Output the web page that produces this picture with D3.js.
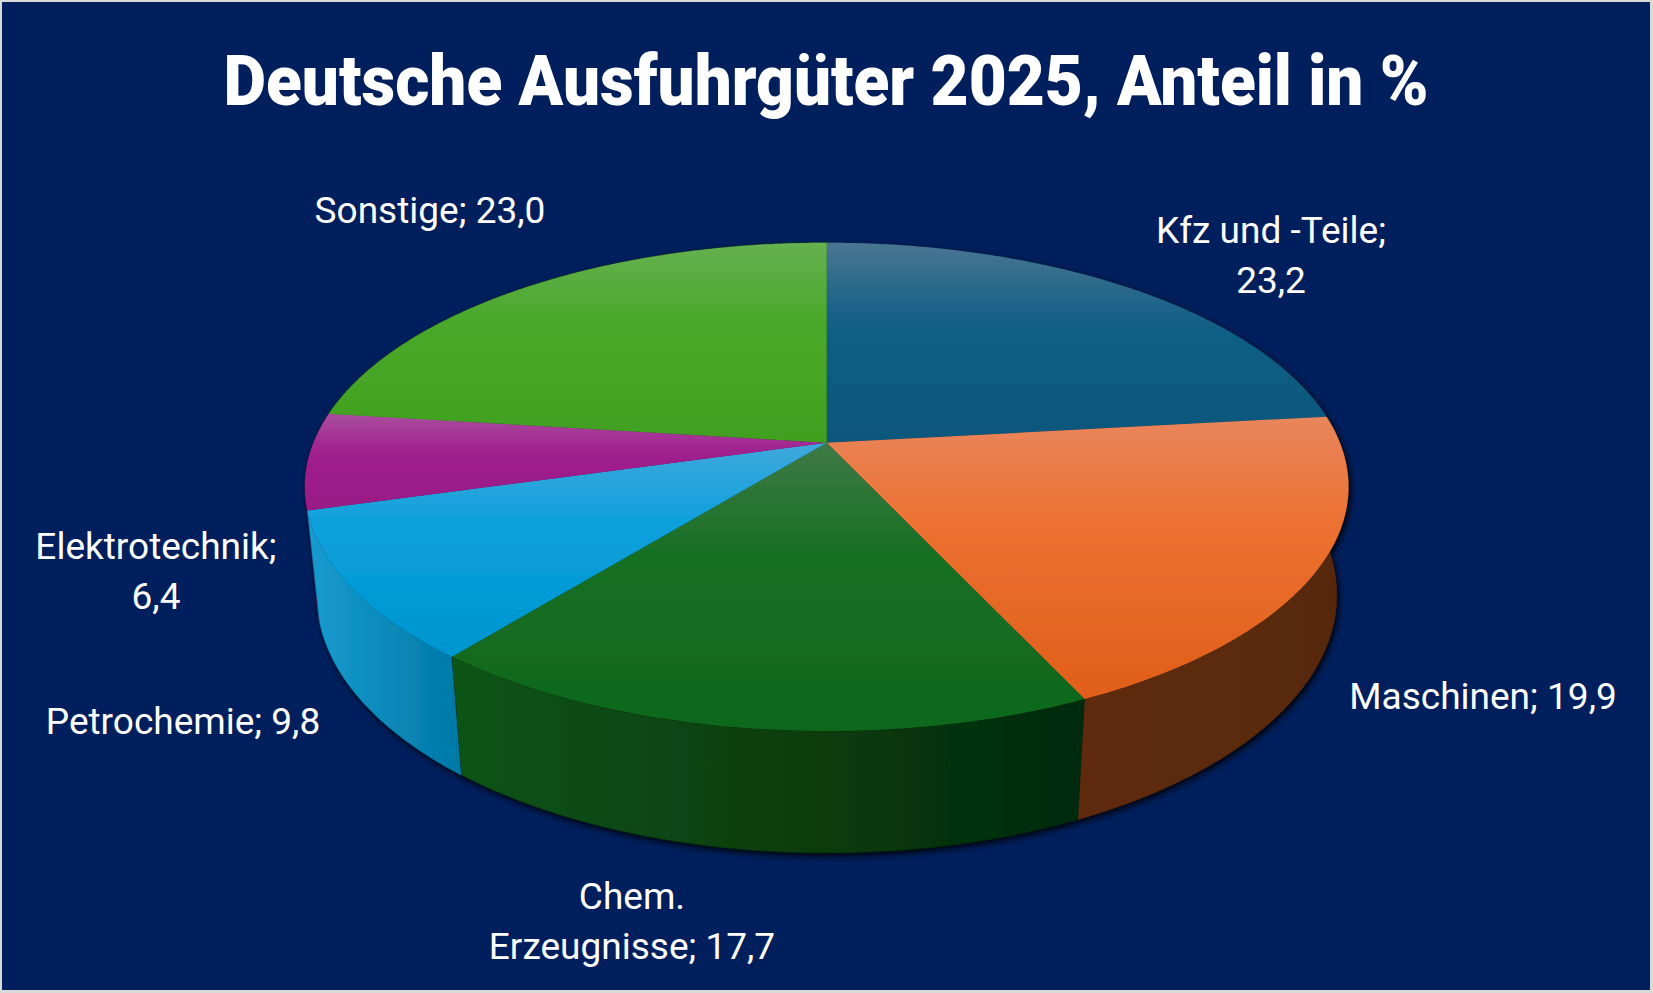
<!DOCTYPE html>
<html>
<head>
<meta charset="utf-8">
<script src="https://cdn.jsdelivr.net/npm/d3@7/dist/d3.min.js"></script>
<style>
  html, body { margin: 0; padding: 0; overflow: hidden; background: #d9d9d9; }
  svg { display: block; }
</style>
</head>
<body>
<script>
// ---- data ----
const title = "Deutsche Ausfuhrgüter 2025, Anteil in %";
const categories = ["Kfz und -Teile", "Maschinen", "Chem. Erzeugnisse", "Petrochemie", "Elektrotechnik", "Sonstige"];
const values = [23.2, 19.9, 17.7, 9.8, 6.4, 23.0];
// label line breaks: index of word after which the line breaks ("value" = before value)
const labelBreaks = ["value", null, 1, null, "value", null];

// ---- style / layout ----
const W = 1653, H = 993;
const topColors = [
  ["#4a7592", "#125f86", "#07567b"],
  ["#e9865c", "#ec7030", "#e05f19"],
  ["#3e7a46", "#166f22", "#0f681d"],
  ["#40a8dc", "#0aa0dc", "#0095cf"],
  ["#aa4e9e", "#a0208e", "#991a86"],
  ["#66b050", "#4aa82a", "#41a01f"]
];
const sideColors = [
  ["#0a4866", "#063850"],
  ["#5e2b10", "#582810"],
  ["#0e5417", "#042a09"],
  ["#189cd0", "#0078a6"],
  ["#7a1468", "#5e0e52"],
  ["#2e7a16", "#24600f"]
];
const labelPos = [
  [1271, 243], [1483, 709], [632, 909], [183, 734], [156, 559], [430, 223]
];
const lineGap = 50;

// perspective projection of the pie disc
const PR = { cx: 826.7, cy: 442.8, a: 513.2, k: 0.1804, sinA: 0.4602, cosA: 0.888, h: 0.2396 };
const tanA = PR.sinA / PR.cosA;
function proj(theta, z) {
  const u = Math.sin(theta), v = -Math.cos(theta);
  const w = 1 - PR.k * v + z * PR.h * PR.k * tanA;
  return [PR.cx + PR.a * u / w, PR.cy + PR.a * (v * PR.sinA + z * PR.h * PR.cosA) / w];
}
function arcPts(t0, t1, z) {
  const n = Math.max(2, Math.ceil(Math.abs(t1 - t0) / (Math.PI / 360)));
  const pts = [];
  for (let i = 0; i <= n; i++) pts.push(proj(t0 + (t1 - t0) * i / n, z));
  return pts;
}
const line = d3.line();

const svg = d3.select("body").append("svg").attr("width", W).attr("height", H);
svg.append("rect").attr("x", 0).attr("y", 0).attr("width", W).attr("height", H).attr("fill", "#d9d9d9");
svg.append("rect").attr("x", 2).attr("y", 2).attr("width", W - 5).attr("height", H - 5).attr("fill", "#011f5c");

const defs = svg.append("defs");
const f = defs.append("filter").attr("id", "shadow").attr("x", "-10%").attr("y", "-10%").attr("width", "120%").attr("height", "130%");
f.append("feDropShadow").attr("dx", 2).attr("dy", 3).attr("stdDeviation", 3)
  .attr("flood-color", "#000").attr("flood-opacity", 0.9);

const pie = d3.pie().sort(null).value(d => d)(values);

pie.forEach((p, i) => {
  const g = defs.append("linearGradient").attr("id", "top" + i).attr("x1", 0).attr("y1", 0).attr("x2", 0).attr("y2", 1);
  g.append("stop").attr("offset", "0%").attr("stop-color", topColors[i][0]);
  g.append("stop").attr("offset", "40%").attr("stop-color", topColors[i][1]);
  g.append("stop").attr("offset", "100%").attr("stop-color", topColors[i][2]);
  const s = defs.append("linearGradient").attr("id", "side" + i).attr("x1", 0).attr("y1", 0).attr("x2", 1).attr("y2", 0);
  s.append("stop").attr("offset", "0%").attr("stop-color", sideColors[i][0]);
  s.append("stop").attr("offset", "100%").attr("stop-color", sideColors[i][1]);
});

const pieG = svg.append("g").attr("filter", "url(#shadow)");

// sides: back to front
const sideOrder = pie.map((p, i) => ({ p, i, depth: -Math.cos((p.startAngle + p.endAngle) / 2) }))
  .sort((a, b) => a.depth - b.depth);
pieG.append("g").selectAll("path").data(sideOrder).join("path")
  .attr("d", d => {
    const topA = arcPts(d.p.startAngle, d.p.endAngle, 0);
    const botA = arcPts(d.p.endAngle, d.p.startAngle, 1);
    return line(topA.concat(botA)) + "Z";
  })
  .attr("fill", d => `url(#side${d.i})`)
  .attr("stroke", d => sideColors[d.i][1]).attr("stroke-width", 0.5);

// tops
pieG.append("g").selectAll("path").data(pie).join("path")
  .attr("d", p => line([[PR.cx, PR.cy]].concat(arcPts(p.startAngle, p.endAngle, 0))) + "Z")
  .attr("fill", (p, i) => `url(#top${i})`);

// title
svg.append("text")
  .attr("x", 223.5).attr("y", 105)
  .attr("textLength", 1205).attr("lengthAdjust", "spacingAndGlyphs")
  .attr("font-family", "Roboto, 'Liberation Sans', sans-serif")
  .attr("font-weight", 900).attr("font-size", 70).attr("fill", "#ffffff")
  .text(title);

// labels
const fmt = v => d3.format(".1f")(v).replace(".", ",");
function labelLines(i) {
  const name = categories[i], val = fmt(values[i]), br = labelBreaks[i];
  if (br === null) return [name + "; " + val];
  if (br === "value") return [name + ";", val];
  const words = name.split(" ");
  return [words.slice(0, br).join(" "), words.slice(br).join(" ") + "; " + val];
}
const lab = svg.append("g")
  .attr("font-family", "Roboto, 'Open Sans', sans-serif")
  .attr("font-size", 37).attr("fill", "#ffffff").attr("text-anchor", "middle");
categories.forEach((c, i) => {
  const t = lab.append("text").attr("x", labelPos[i][0]).attr("y", labelPos[i][1]);
  labelLines(i).forEach((l, j) => {
    t.append("tspan").attr("x", labelPos[i][0]).attr("y", labelPos[i][1] + j * lineGap).text(l);
  });
});
</script>
</body>
</html>
